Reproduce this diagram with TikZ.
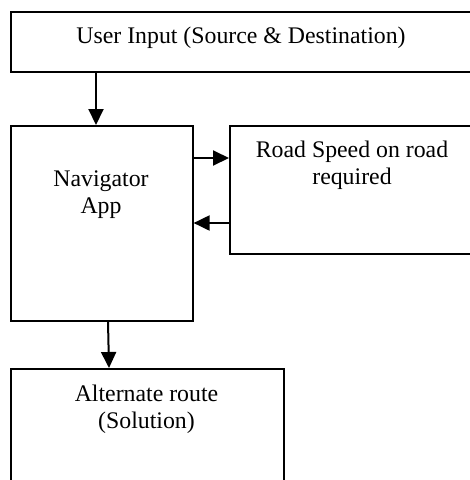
\documentclass[tikz,border=0pt]{standalone}
\usepackage{fontspec}
\setmainfont{Liberation Serif}
\usetikzlibrary{arrows.meta}
\begin{document}
\begin{tikzpicture}[x=1pt,y=-1pt,
  box/.style={draw=black,line width=1.6pt,rectangle,anchor=north west,inner sep=0pt},
  txt/.style={font=\fontsize{23.8}{27}\selectfont,align=center,anchor=base,inner sep=0pt},
  arr/.style={line width=2pt,-{Triangle[length=16pt,width=15pt]}}]
\useasboundingbox (0,0) rectangle (470,480);
\clip (0,0) rectangle (470,480);
\node[box,minimum width=461pt,minimum height=60pt] (top) at (10,11) {};
\node[box,minimum width=182pt,minimum height=195pt] (nav) at (10,125) {};
\node[box,minimum width=246pt,minimum height=128pt] (road) at (229,125) {};
\node[box,minimum width=273pt,minimum height=124pt] (alt) at (10,368) {};
\node[txt] (toptxt) at (241,43) {User Input (Source \& Destination)};
\node[txt] (navtxt) at (101,213) {Navigator\\App};
\node[txt] (roadtxt) at (352,184) {Road Speed on road\\required};
\node[txt] (alttxt) at (146.5,428) {Alternate route\\(Solution)};
\coordinate (a1) at (96,0);
\coordinate (r1) at (0,158);
\coordinate (r2) at (0,223);
\coordinate (b1) at (108,0);
\coordinate (b2) at (109,0);
\draw[arr] (top.south -| a1) -- (nav.north -| a1);
\draw[arr] (nav.east |- r1) -- (road.west |- r1);
\draw[arr] (road.west |- r2) -- (nav.east |- r2);
\draw[arr] (nav.south -| b1) -- (alt.north -| b2);
\end{tikzpicture}
\end{document}
